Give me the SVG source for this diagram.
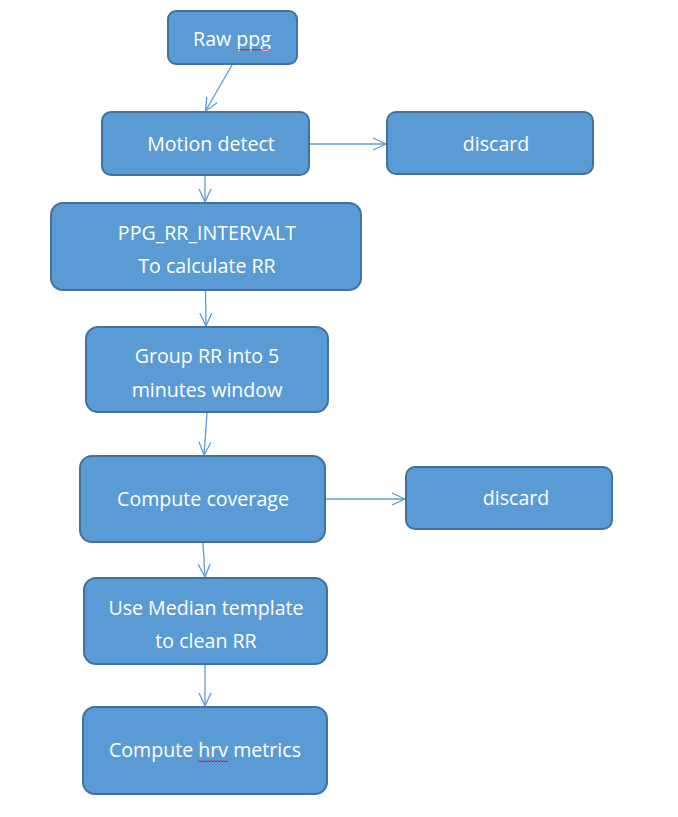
<svg xmlns="http://www.w3.org/2000/svg" width="678" height="817" viewBox="0 0 678 817">
<defs>
<style>
.box{fill:#5B9BD5;stroke:#41719C;stroke-width:2}
.t{fill:#FFFFFF;font-family:"Open Sans","Noto Sans","Liberation Sans",sans-serif;font-size:19.6px;text-anchor:middle}
.c{stroke:#5B9BD5;stroke-width:1.3;fill:none}
.sq{stroke:#E00000;stroke-width:0.9;fill:none}
</style>
<marker id="arr" markerUnits="userSpaceOnUse" markerWidth="16" markerHeight="16" viewBox="0 0 16 16" refX="14" refY="8" orient="auto">
<path d="M1,2 L14,8 L1,14" stroke="#5B9BD5" stroke-width="1.3" fill="none"/>
</marker>
</defs>
<rect width="678" height="817" fill="#FFFFFF"/>
<g id="connectors">
<line class="c" x1="232" y1="65" x2="205.5" y2="111" marker-end="url(#arr)"/>
<line class="c" x1="205" y1="176" x2="205" y2="202" marker-end="url(#arr)"/>
<line class="c" x1="309" y1="144" x2="386" y2="144" marker-end="url(#arr)"/>
<line class="c" x1="205.5" y1="291" x2="206" y2="326" marker-end="url(#arr)"/>
<line class="c" x1="207" y1="413" x2="204" y2="455" marker-end="url(#arr)"/>
<line class="c" x1="326" y1="499" x2="405" y2="499" marker-end="url(#arr)"/>
<line class="c" x1="203" y1="543" x2="205" y2="577" marker-end="url(#arr)"/>
<line class="c" x1="205" y1="665" x2="205" y2="706" marker-end="url(#arr)"/>
</g>
<g id="raw-ppg">
<rect class="box" x="168" y="11" width="129" height="53" rx="8"/>
<text class="t" x="232" y="46">Raw ppg</text>
<path class="sq" d="M237,50.5 l1.5,-1.5 l1.5,1.5 l1.5,-1.5 l1.5,1.5 l1.5,-1.5 l1.5,1.5 l1.5,-1.5 l1.5,1.5 l1.5,-1.5 l1.5,1.5 l1.5,-1.5 l1.5,1.5 l1.5,-1.5 l1.5,1.5 l1.5,-1.5 l1.5,1.5 l1.5,-1.5 l1.5,1.5 l1.5,-1.5 l1.5,1.5 l1.5,-1.5 l1.5,1.5"/>
</g>
<g id="motion-detect">
<rect class="box" x="102" y="112" width="207" height="63" rx="9"/>
<text class="t" x="211" y="151">Motion detect</text>
</g>
<g id="discard-1">
<rect class="box" x="387" y="112" width="206" height="62" rx="9"/>
<text class="t" x="496" y="151">discard</text>
</g>
<g id="ppg-rr">
<rect class="box" x="51" y="203" width="310" height="87" rx="12"/>
<text class="t" x="207" y="240">PPG_RR_INTERVALT</text>
<text class="t" x="207" y="273">To calculate RR</text>
</g>
<g id="group-rr">
<rect class="box" x="86" y="327" width="242" height="85" rx="12"/>
<text class="t" x="207" y="363">Group RR into 5</text>
<text class="t" x="207" y="397">minutes window</text>
</g>
<g id="compute-coverage">
<rect class="box" x="80" y="456" width="245" height="86" rx="12"/>
<text class="t" x="203" y="506">Compute coverage</text>
</g>
<g id="discard-2">
<rect class="box" x="406" y="467" width="206" height="62" rx="9"/>
<text class="t" x="516" y="505">discard</text>
</g>
<g id="median-template">
<rect class="box" x="84" y="578" width="243" height="86" rx="12"/>
<text class="t" x="206" y="615">Use Median template</text>
<text class="t" x="206" y="648">to clean RR</text>
</g>
<g id="compute-hrv">
<rect class="box" x="83" y="707" width="244" height="87" rx="12"/>
<text class="t" x="205" y="757">Compute hrv metrics</text>
<path class="sq" d="M198,762 l1.5,-1.5 l1.5,1.5 l1.5,-1.5 l1.5,1.5 l1.5,-1.5 l1.5,1.5 l1.5,-1.5 l1.5,1.5 l1.5,-1.5 l1.5,1.5 l1.5,-1.5 l1.5,1.5 l1.5,-1.5 l1.5,1.5 l1.5,-1.5 l1.5,1.5 l1.5,-1.5 l1.5,1.5 l1.5,-1.5 l1.5,1.5"/>
</g>
</svg>
